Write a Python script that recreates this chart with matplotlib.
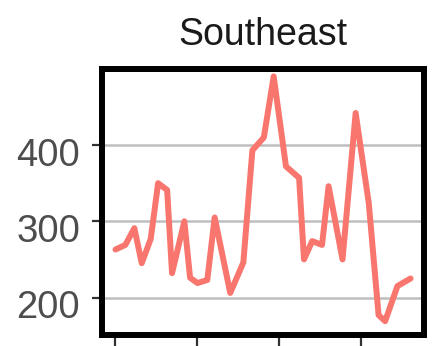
import matplotlib
matplotlib.use("Agg")
import matplotlib.pyplot as plt
from matplotlib.transforms import ScaledTranslation

# values (x in tick units, ticks at 0/10/20/30)
x = [0.1, 1.3, 2.4, 3.3, 4.4, 5.3, 6.4, 7.0, 8.5, 9.2, 10.1, 11.3, 12.2, 14.1,
     15.7, 16.8, 18.2, 19.4, 20.9, 22.5, 23.1, 24.1, 25.3, 26.1, 27.8, 29.4,
     31.0, 32.2, 33.0, 34.5, 36.1]
y = [263, 269, 291, 245, 277, 350, 341, 232, 300, 226, 219, 223, 305, 206,
     246, 393, 410, 490, 372, 357, 250, 274, 269, 346, 250, 442,
     324, 177, 169, 215, 225]
x_ticks = [0, 10, 20, 30]
y_ticks = [200, 300, 400]
title = "Southeast"

plt.rcParams['font.family'] = ['Liberation Sans', 'DejaVu Sans']

fig = plt.figure(figsize=(4.36, 3.46), dpi=100)
ax = fig.add_axes([0.2339, 0.0332, 0.7378, 0.7673])

ax.plot(x, y, color='#F8766D', linewidth=4.3, solid_joinstyle='round',
        solid_capstyle='round', zorder=3)

ax.set_xlim(-1.55, 37.7)
ax.set_ylim(151.5, 499.7)
ax.set_xticks(x_ticks)
ax.set_yticks(y_ticks)
ax.set_xticklabels([])
ax.grid(axis='y', color='#BEBEBE', linewidth=1.8)
ax.set_axisbelow(True)

for s in ax.spines.values():
    s.set_linewidth(4.3)
    s.set_color('black')

ax.tick_params(axis='both', length=7.4, width=1.6, color='#333333')
ax.tick_params(axis='x', length=9)
ax.tick_params(axis='y', labelsize=27.5, labelcolor='#4D4D4D', pad=8.4)
ax.tick_params(axis='x', labelbottom=False)

# labels sit a little low in the reference
for lab in ax.get_yticklabels():
    lab.set_transform(lab.get_transform() + ScaledTranslation(0, -5 / 72, fig.dpi_scale_trans))

ax.set_title(title, fontsize=27, color='#1A1A1A', pad=17)

plt.savefig('out.png', dpi=100)
